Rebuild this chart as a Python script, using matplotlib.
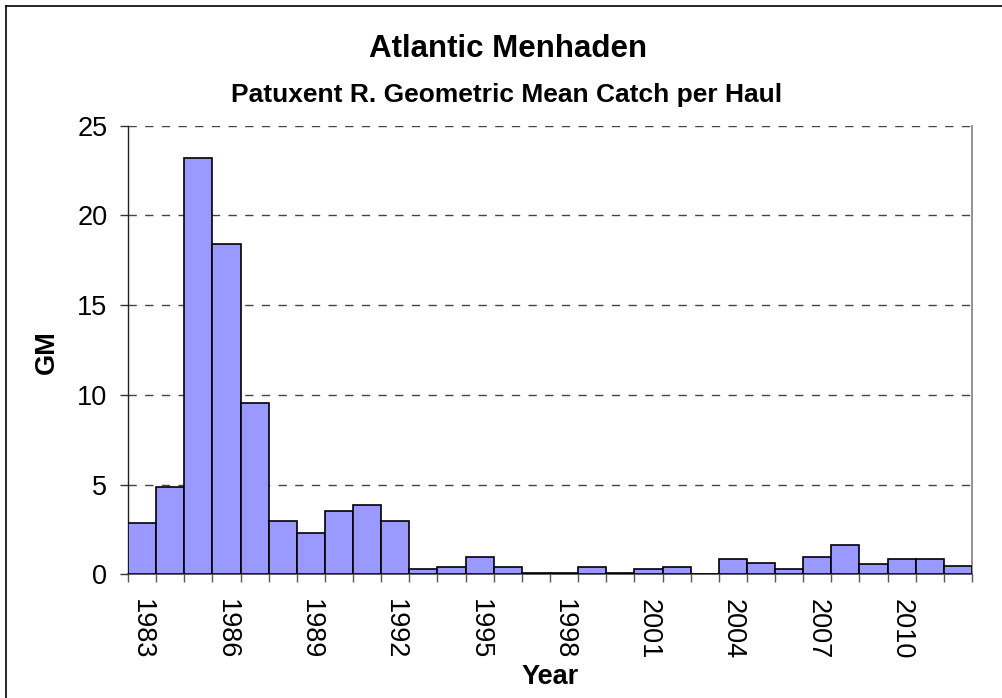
import matplotlib
matplotlib.use("Agg")
import matplotlib.pyplot as plt
from matplotlib.lines import Line2D
import numpy as np

plt.rcParams['font.family'] = ['Liberation Sans', 'DejaVu Sans']

years = list(range(1983, 2013))
gm = [2.88, 4.88, 23.2, 18.42, 9.55, 2.99, 2.32, 3.53, 3.86, 2.99,
      0.30, 0.43, 0.98, 0.43, 0.06, 0.08, 0.43, 0.08, 0.30, 0.43,
      0.0, 0.85, 0.65, 0.32, 0.98, 1.63, 0.55, 0.85, 0.85, 0.44]
label_years = list(range(1983, 2013, 3))
title = "Atlantic Menhaden"
subtitle = "Patuxent R. Geometric Mean Catch per Haul"
y_ticks = [0, 5, 10, 15, 20, 25]

W, H = 1003, 698
fig = plt.figure(figsize=(W / 100, H / 100), dpi=100)
left, right, top, bottom = 128, 972, 125.7, 574.3
ax = fig.add_axes([left / W, 1 - bottom / H, (right - left) / W, (bottom - top) / H])

ax.bar(years, gm, width=1.0, color='#9999FF', edgecolor='black', linewidth=1.2, zorder=3)

ax.set_xlim(years[0] - 0.5, years[-1] + 0.5)
ax.set_ylim(0, 25)
ax.set_yticks(y_ticks)
ax.set_yticklabels([str(v) for v in y_ticks], fontsize=19.5)
ax.tick_params(axis='y', direction='out', length=5.8, width=1, color='#333333', pad=9)

# major ticks at bar edges (no labels), minor ticks at bar centres (labels only)
edges = np.arange(years[0] - 0.5, years[-1] + 1.0, 1.0)
ax.set_xticks(edges)
ax.set_xticklabels([])
ax.tick_params(axis='x', which='major', direction='out', length=5.8, width=1, color='#555555')
ax.set_xticks(label_years, minor=True)
ax.set_xticklabels([str(y) for y in label_years], minor=True, rotation=-90, fontsize=19.5)
ax.tick_params(axis='x', which='minor', length=0, pad=18)

for yv in y_ticks[1:]:
    ax.axhline(yv, color='#444444', linewidth=1.0, dashes=(6, 6), zorder=1)

ax.spines['top'].set_visible(False)
ax.spines['left'].set_color('#222222')
ax.spines['left'].set_linewidth(1.0)
ax.spines['right'].set_color('#808080')
ax.spines['right'].set_linewidth(1.2)
ax.spines['bottom'].set_color('#444444')
ax.spines['bottom'].set_linewidth(1.2)

fig.text(508 / W, 1 - 49 / H, title, ha='center', va='center', fontsize=22.5, fontweight='bold')
fig.text(507 / W, 1 - 95 / H, subtitle, ha='center', va='center', fontsize=19, fontweight='bold')
fig.text(47 / W, 1 - 352 / H, "GM", ha='center', va='center', rotation=90, fontsize=19.5, fontweight='bold')
fig.text(550 / W, 1 - 677 / H, "Year", ha='center', va='center', fontsize=19.5, fontweight='bold')

# outer frame (left and top edges visible in the reference)
fig.add_artist(Line2D([6 / W, 6 / W], [0, 1 - 6 / H], color='black', linewidth=1.2))
fig.add_artist(Line2D([6 / W, 1], [1 - 6 / H, 1 - 6 / H], color='black', linewidth=1.2))

fig.savefig("out.png", dpi=100)
